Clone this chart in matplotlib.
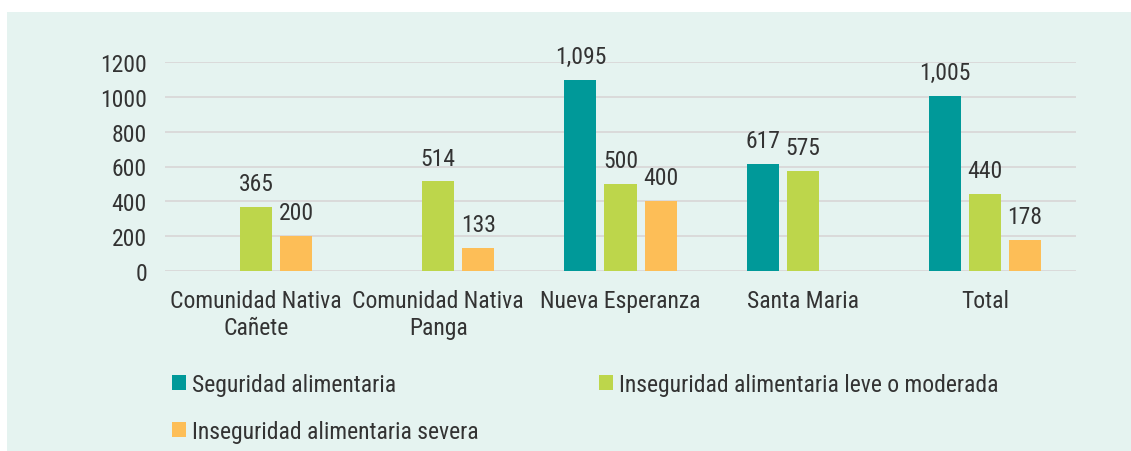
import matplotlib
matplotlib.use("Agg")
import matplotlib.pyplot as plt
from matplotlib.patches import Rectangle
import numpy as np

# Data
categories = ["Comunidad Nativa\nCañete", "Comunidad Nativa\nPanga", "Nueva Esperanza",
              "Santa Maria", "Total"]
series_names = ["Seguridad alimentaria",
                "Inseguridad alimentaria leve o moderada",
                "Inseguridad alimentaria severa"]
seguridad = [np.nan, np.nan, 1095, 617, 1005]
inseg_leve = [365, 514, 500, 575, 440]
inseg_severa = [200, 133, 400, np.nan, 178]
y_ticks = [0, 200, 400, 600, 800, 1000, 1200]

colors = ["#009999", "#BDD64B", "#FDBE57"]
panel_bg = "#E5F3F0"
text_color = "#333333"
grid_color = "#DADADA"

plt.rcParams["font.family"] = ["Roboto Condensed", "Liberation Sans Narrow",
                               "Liberation Sans", "DejaVu Sans"]
FS = 17

W, H = 1131, 452
fig = plt.figure(figsize=(W / 100, H / 100), dpi=100, facecolor="white")

# light panel behind the chart
fig.patches.append(Rectangle((7 / W, 0), 1 - 7 / W, (H - 13) / H,
                             transform=fig.transFigure, facecolor=panel_bg,
                             edgecolor="none", zorder=-5))

ax = fig.add_axes([165 / W, (H - 272) / H, (1076 - 165) / W, (272 - 63) / H])
ax.set_facecolor("none")

x = np.arange(len(categories))
step = 0.22
width = 0.176
all_series = [seguridad, inseg_leve, inseg_severa]
handles = []
for i, (vals, col, name) in enumerate(zip(all_series, colors, series_names)):
    pos = x + (i - 1) * step
    bars = ax.bar(pos, vals, width=width, color=col, label=name, zorder=3)
    handles.append(bars)
    for xp, v in zip(pos, vals):
        if np.isnan(v):
            continue
        ax.annotate(f"{int(v):,}", (xp, v), xytext=(0, 12.2),
                    textcoords="offset points", ha="center", va="baseline",
                    fontsize=FS, color=text_color, annotation_clip=False)

ax.set_xlim(-0.5, len(categories) - 0.5)
ax.set_ylim(0, 1200)
ax.set_yticks(y_ticks)
ax.set_xticks(x)
ax.set_xticklabels(categories, fontsize=FS, color=text_color, linespacing=1.2)
ax.tick_params(axis="y", length=0, pad=13, labelsize=FS, labelcolor=text_color)
ax.tick_params(axis="x", length=0, pad=13)
ax.grid(axis="y", color=grid_color, linewidth=1.4, zorder=0)
for s in ax.spines.values():
    s.set_visible(False)

# legend filled column-wise: first column holds items 1 and 3, second column item 2
order = [0, 2, 1]
leg = fig.legend(handles=[handles[k] for k in order],
                 labels=[series_names[k] for k in order], ncol=2,
                 loc="upper left", bbox_to_anchor=(172 / W, (H - 374) / H),
                 frameon=False, fontsize=FS, handlelength=0.6, handleheight=0.6,
                 handletextpad=0.25, columnspacing=5.1, labelspacing=1.0,
                 borderaxespad=0, borderpad=0)
for t in leg.get_texts():
    t.set_color(text_color)

fig.savefig("out.png", dpi=100, facecolor="white")
